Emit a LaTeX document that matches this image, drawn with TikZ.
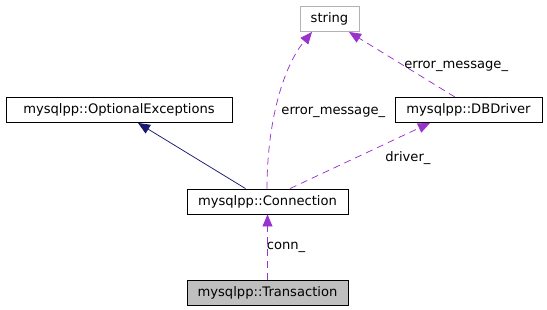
\documentclass[tikz,border=0pt]{standalone}
\usepackage{fontspec}
\setmainfont{DejaVu Sans}
\usetikzlibrary{arrows.meta}
\definecolor{usecol}{HTML}{9A32CD}
\definecolor{inhcol}{HTML}{191970}
\tikzset{
  cls/.style={draw=black,fill=white,line width=0.9pt,inner sep=0pt,
              minimum height=25pt,font=\fontsize{13.1}{14}\selectfont},
  uses/.style={usecol,line width=0.75pt,dash pattern=on 7pt off 5pt,
               -{Triangle[length=12pt,width=10pt]}},
  inherits/.style={inhcol,line width=0.75pt,-{Triangle[length=12pt,width=10pt]}},
  lbl/.style={font=\fontsize{13.1}{14}\selectfont,inner sep=0pt,text=black}
}
\begin{document}
\begin{tikzpicture}[x=1pt,y=-1pt]
                    \useasboundingbox (0,0) rectangle (547,309);
                    % classes
                    \node[cls,draw=gray!60,minimum width=59pt] (str) at (329.5,19) {string};
                    \node[cls,minimum width=226pt] (optexc) at (119,110) {mysqlpp::OptionalExceptions};
                    \node[cls,minimum width=147pt] (dbdrv) at (468.5,110) {mysqlpp::DBDriver};
                    \node[cls,minimum width=161pt] (conn) at (267.5,201.5) {mysqlpp::Connection};
                    \node[cls,fill=gray!50,minimum width=161pt] (trans) at (267.5,292.5) {mysqlpp::Transaction};
                    % relations
                    \draw[inherits] ([xshift=-22pt]conn.north) -- ([xshift=19pt]optexc.south);
                    \draw[uses] ([xshift=-0.5pt]conn.north) .. controls (267,125) and (282,68) .. ([xshift=-17.5pt]str.south)
                        node[lbl,pos=0.45,anchor=west,xshift=5pt,yshift=-4pt] {error\_message\_};
                    \draw[uses] ([xshift=22.5pt]conn.north) -- ([xshift=-38.5pt]dbdrv.south)
                        node[lbl,pos=0.45,anchor=north west,xshift=32pt,yshift=8pt] {driver\_};
                    \draw[uses] ([xshift=-13.5pt]dbdrv.north) -- ([xshift=19.5pt]str.south)
                        node[lbl,pos=0.5,anchor=west,xshift=2pt,yshift=-2pt] {error\_message\_};
                    \draw[uses] (trans.north) -- (conn.south)
                        node[lbl,midway,anchor=west,xshift=-1pt] {conn\_};
                \end{tikzpicture}
\end{document}
